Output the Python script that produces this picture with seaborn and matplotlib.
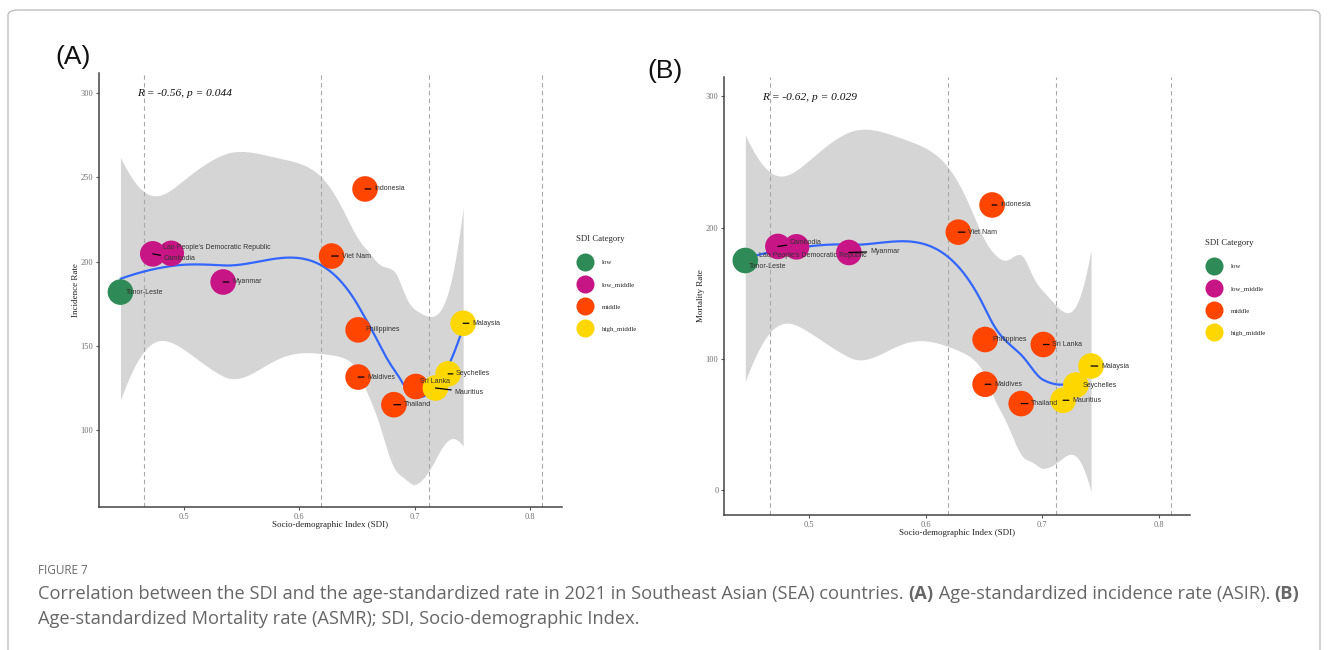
import numpy as np
import pandas as pd
import matplotlib
matplotlib.use("Agg")
import matplotlib.pyplot as plt
import seaborn as sns
from matplotlib.lines import Line2D
from matplotlib.patches import FancyBboxPatch

# ---------------- data ----------------
countries = ["Timor-Leste", "Cambodia", "Lao People's Democratic Republic", "Myanmar",
             "Viet Nam", "Philippines", "Maldives", "Indonesia", "Thailand",
             "Sri Lanka", "Mauritius", "Seychelles", "Malaysia"]
sdi = [0.445, 0.473, 0.489, 0.534, 0.628, 0.651, 0.651, 0.657, 0.682, 0.701, 0.718, 0.729, 0.742]
category = ["low", "low_middle", "low_middle", "low_middle", "middle", "middle", "middle",
            "middle", "middle", "middle", "high_middle", "high_middle", "high_middle"]
incidence = [182.0, 204.7, 205.0, 188.0, 203.4, 159.6, 131.6, 243.2, 115.2, 126.0, 125.1, 133.5, 163.5]
mortality = [174.9, 185.6, 185.3, 181.0, 196.5, 114.7, 80.6, 217.2, 65.9, 110.9, 68.4, 80.0, 94.5]
sdi_cuts = [0.4658, 0.6188, 0.7120, 0.8103]
cat_order = ["low", "low_middle", "middle", "high_middle"]
cat_colors = ["#2E8B57", "#C71585", "#FF4500", "#FFD700"]
stat_text_a = "R = -0.56, p = 0.044"
stat_text_b = "R = -0.62, p = 0.029"

df = pd.DataFrame({"country": countries, "sdi": sdi, "category": category,
                   "incidence": incidence, "mortality": mortality})

# label offsets in pixels (dx right, dy down)
offs_a = {"Timor-Leste": (5, 0), "Cambodia": (11, 5), "Lao People's Democratic Republic": (-8, -6),
          "Myanmar": (9, 0), "Viet Nam": (10, 0), "Philippines": (7, 0), "Maldives": (9, 0),
          "Indonesia": (9, 0), "Thailand": (10, 0), "Sri Lanka": (4, -5), "Mauritius": (19, 4),
          "Seychelles": (8, 0), "Malaysia": (9, 0)}
offs_b = {"Timor-Leste": (4, 6), "Cambodia": (12, -4), "Lao People's Democratic Republic": (-38, 9),
          "Myanmar": (21, -1), "Viet Nam": (10, 0), "Philippines": (7, 0), "Maldives": (9, 0),
          "Indonesia": (8, 0), "Thailand": (10, 0), "Sri Lanka": (9, 0), "Mauritius": (9, 0),
          "Seychelles": (7, 0), "Malaysia": (10, 0)}


def t_quantile(df_):
    z = 1.959964
    g1 = (z**3 + z) / 4
    g2 = (5*z**5 + 16*z**3 + 3*z) / 96
    g3 = (3*z**7 + 19*z**5 + 17*z**3 - 15*z) / 384
    g4 = (79*z**9 + 776*z**7 + 1482*z**5 - 1920*z**3 - 945*z) / 92160
    return z + g1/df_ + g2/df_**2 + g3/df_**3 + g4/df_**4


def kd_vertices(xs_sorted, fc):
    """1-D version of the loess kd-tree: cut at median data values."""
    xs = xs_sorted
    rng = xs[-1] - xs[0]
    lo0, hi0 = xs[0] - 0.005*rng, xs[-1] + 0.005*rng
    verts = {lo0, hi0}

    def build(l, u, lo_b, hi_b):
        if u - l + 1 <= fc:
            return
        m = (l + u) // 2
        off = 0
        while l <= m + off < u:
            if xs[m + off] == xs[m + off + 1]:
                off = -off
                if off >= 0:
                    off += 1
            else:
                m = m + off
                break
        split = xs[m]
        if split == lo_b or split == hi_b:
            return
        verts.add(split)
        build(l, m, lo_b, split)
        build(m + 1, u, split, hi_b)

    build(0, len(xs) - 1, lo0, hi0)
    return np.array(sorted(verts))


def loess(x, y, xg, span=0.75):
    """loess (degree 2, tricube) with kd-tree vertices + cubic Hermite interpolation."""
    x = np.asarray(x, float); y = np.asarray(y, float)
    n = len(x); q = int(np.floor(n * span))

    def rows(x0):
        d = np.abs(x - x0)
        h = np.sort(d)[q - 1]
        u = np.clip(d / h, 0, 1)
        w = (1 - u**3)**3
        X = np.column_stack([np.ones(n), x - x0, (x - x0)**2])
        A = X.T @ (w[:, None] * X)
        B = np.linalg.solve(A, (X * w[:, None]).T)
        return B[0], B[1]

    fc = int(np.floor(n * span * 0.2))
    verts = kd_vertices(np.sort(x), fc)
    V = [rows(v) for v in verts]

    def interp(x0):
        k = int(np.clip(np.searchsorted(verts, x0) - 1, 0, len(verts) - 2))
        v0, v1 = verts[k], verts[k + 1]
        hh = v1 - v0; t = (x0 - v0) / hh
        h00 = 2*t**3 - 3*t**2 + 1; h10 = t**3 - 2*t**2 + t
        h01 = -2*t**3 + 3*t**2; h11 = t**3 - t**2
        return h00*V[k][0] + h10*hh*V[k][1] + h01*V[k+1][0] + h11*hh*V[k+1][1]

    L = np.array([interp(v) for v in x])
    res = y - L @ y
    M = np.eye(n) - L
    MM = M.T @ M
    d1 = np.trace(MM); d2 = np.trace(MM @ MM)
    sigma = np.sqrt(res @ res / d1)
    Lg = np.array([interp(v) for v in xg])
    fit = Lg @ y
    se = sigma * np.sqrt((Lg**2).sum(1))
    t = t_quantile(d1**2 / d2)
    return fit, fit - t*se, fit + t*se


sns.set_theme(style="ticks")
plt.rcParams["font.family"] = ["Liberation Sans", "DejaVu Sans"]

fig = plt.figure(figsize=(13.28, 6.5), dpi=100)
W, H = 1328, 650


def px_ax(l, t, r, b):
    return fig.add_axes([l/W, 1 - b/H, (r - l)/W, (b - t)/H])


ax_a = px_ax(99, 73, 562, 507)
ax_b = px_ax(724, 77, 1190, 515)

palette = dict(zip(cat_order, cat_colors))
serif = "Liberation Serif"


def panel(ax, ycol, ylabel, xlim, ylim, yticks, stat, stat_xy, offs):
    for c in sdi_cuts:
        ax.axvline(c, color="#A8A8A8", lw=0.8, ls=(0, (4, 3)), zorder=2)
    xg = np.linspace(min(sdi), max(sdi), 240)
    fit, lo, hi = loess(df["sdi"], df[ycol], xg)
    ax.fill_between(xg, lo, hi, color="#D5D5D5", lw=0, zorder=1)
    sns.lineplot(x=xg, y=fit, ax=ax, color="#3366FF", lw=1.6, zorder=3)
    sns.scatterplot(data=df, x="sdi", y=ycol, hue="category", hue_order=cat_order,
                    palette=palette, s=340, edgecolor="none", linewidth=0,
                    legend=False, ax=ax, zorder=4)
    for _, r in df.iterrows():
        dx, dy = offs[r["country"]]
        leader = dx >= 8 and not r["country"].startswith("Lao")
        ax.annotate(r["country"], xy=(r["sdi"], r[ycol]),
                    xytext=(dx * 0.72, -dy * 0.72), textcoords="offset points",
                    ha="left", va="center", fontsize=5, color="#333333", zorder=6,
                    arrowprops=dict(arrowstyle="-", color="black", lw=0.9,
                                    shrinkA=0, shrinkB=0) if leader else None)
    ax.set_xlim(*xlim); ax.set_ylim(*ylim)
    ax.set_xticks([0.5, 0.6, 0.7, 0.8]); ax.set_xticklabels(["0.5", "0.6", "0.7", "0.8"])
    ax.set_yticks(yticks); ax.set_yticklabels([str(v) for v in yticks])
    for lab in ax.get_xticklabels() + ax.get_yticklabels():
        lab.set_fontfamily(serif); lab.set_fontsize(6); lab.set_color("#707070")
    ax.tick_params(length=2.5, width=0.8, color="#555555", pad=1.5)
    ax.set_xlabel("Socio-demographic Index (SDI)", fontfamily=serif, fontsize=6.5,
                  color="#222222", labelpad=0.5)
    ax.set_ylabel(ylabel, fontfamily=serif, fontsize=6.5, color="#222222", labelpad=0.5)
    for s in ["top", "right"]:
        ax.spines[s].set_visible(False)
    for s in ["left", "bottom"]:
        ax.spines[s].set_color("#444444"); ax.spines[s].set_linewidth(1.1)
    ax.set_facecolor("white")
    ax.text(stat_xy[0], stat_xy[1], stat, transform=ax.transAxes, fontfamily=serif,
            fontstyle="italic", fontsize=8.2, color="#111111", ha="left", va="center")


panel(ax_a, "incidence", "Incidence Rate", (0.4264, 0.8277), (54.5, 312),
      [100, 150, 200, 250, 300], stat_text_a, ((137 - 99) / 463, (507 - 93) / 434), offs_a)
panel(ax_b, "mortality", "Mortality Rate", (0.4267, 0.827), (-19, 314.7),
      [0, 100, 200, 300], stat_text_b, ((762 - 724) / 466, (515 - 97) / 438), offs_b)

# legends
handles = [Line2D([], [], marker="o", ls="", markersize=13, markerfacecolor=c,
                  markeredgewidth=0) for c in cat_colors]
for (lx, ly) in [(576, 235), (1205, 239)]:
    fig.legend(handles, cat_order, loc="upper left", bbox_to_anchor=(lx/W, 1 - ly/H),
               frameon=False, title="SDI Category", prop={"family": serif, "size": 5},
               title_fontproperties={"family": serif, "size": 6.3},
               handletextpad=1.1, labelspacing=2.35, borderpad=0, borderaxespad=0,
               handlelength=2.6, handleheight=0.7, alignment="left")

# panel labels
fig.text(73/W, 1 - 57/H, "(A)", fontsize=19, ha="center", va="center", color="#111111")
fig.text(665/W, 1 - 71/H, "(B)", fontsize=19, ha="center", va="center", color="#111111")

# outer frame
fig.patches.append(FancyBboxPatch((8/W, -0.05), (1320 - 8)/W, 1 - 10/H + 0.05,
                                  boxstyle="round,pad=0,rounding_size=0.008",
                                  transform=fig.transFigure, fill=False,
                                  edgecolor="#BDBDBD", lw=1.0, zorder=0))

# caption
cap_font = ["Open Sans", "DejaVu Sans"]
fig.text(38/W, 1 - 571/H, "FIGURE 7", fontsize=8.5, color="#6a6a6a", family=cap_font,
         ha="left", va="center")
renderer = fig.canvas.get_renderer()

line1 = [("Correlation between the SDI and the age-standardized rate in 2021 in Southeast Asian (SEA) countries. ", False),
         ("(A)", True), (" Age-standardized incidence rate (ASIR). ", False), ("(B)", True)]
line2 = [("Age-standardized Mortality rate (ASMR); SDI, Socio-demographic Index.", False)]


def line_width(pieces, size):
    tot = 0
    for txt, bold in pieces:
        t = fig.text(0, 0, txt, fontsize=size, family=cap_font,
                     fontweight="bold" if bold else "normal")
        tot += t.get_window_extent(renderer).width
        t.remove()
    return tot


cap_size = 11.0 * (1262 / line_width(line1, 11.0))


def write_line(pieces, y, size):
    x = 38
    for txt, bold in pieces:
        t = fig.text(x/W, 1 - y/H, txt, fontsize=size, color="#666666", family=cap_font,
                     fontweight="bold" if bold else "normal", ha="left", va="center")
        x += t.get_window_extent(renderer).width


write_line(line1, 594, cap_size)
write_line(line2, 619, cap_size)

fig.savefig("out.png", dpi=100)
